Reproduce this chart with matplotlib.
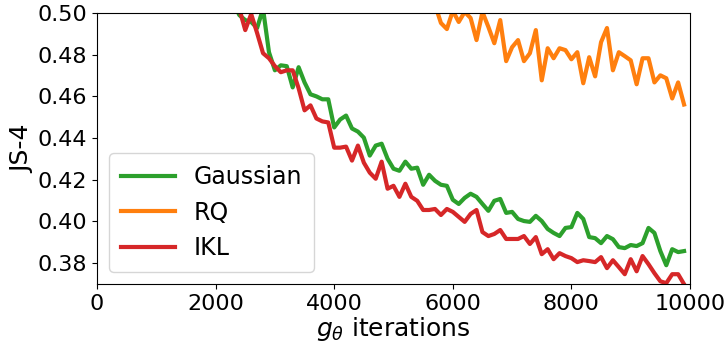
import numpy as np
import matplotlib.pyplot as plt

# JS-4 score every 100 generator iterations
gauss_start = 2300
gauss_js = [0.505, 0.499, 0.4966, 0.4957, 0.4928, 0.502, 0.4812, 0.4725, 0.4749, 0.4745,
            0.4643, 0.4740, 0.4667, 0.4610, 0.4600, 0.4586, 0.4586, 0.4451, 0.4489, 0.4508,
            0.4446, 0.4431, 0.4402, 0.4316, 0.4364, 0.4373, 0.4301, 0.4253, 0.4243, 0.4287,
            0.4253, 0.4258, 0.4176, 0.4224, 0.4195, 0.4176, 0.4171, 0.4104, 0.4084, 0.4113,
            0.4133, 0.4118, 0.4084, 0.4051, 0.4099, 0.4108, 0.4041, 0.4046, 0.4012, 0.4002,
            0.3998, 0.4027, 0.4002, 0.3964, 0.3945, 0.3930, 0.3969, 0.3973, 0.4041, 0.4012,
            0.3925, 0.3920, 0.3896, 0.3930, 0.3915, 0.3877, 0.3872, 0.3887, 0.3882, 0.3896,
            0.3969, 0.3945, 0.3858, 0.3790, 0.3867, 0.3853, 0.3858]

rq_start = 5600
rq_js = [0.510, 0.504, 0.4952, 0.4923, 0.501, 0.4957, 0.5005, 0.4976, 0.4870, 0.5005,
         0.4933, 0.4855, 0.4966, 0.4769, 0.4836, 0.4870, 0.4769, 0.4807, 0.4918, 0.4677,
         0.4831, 0.4783, 0.4831, 0.4822, 0.4778, 0.4812, 0.4663, 0.4788, 0.4696, 0.4860,
         0.4928, 0.4725, 0.4812, 0.4793, 0.4773, 0.4658, 0.4783, 0.4783, 0.4667, 0.4701,
         0.4687, 0.4590, 0.4667, 0.4561]

ikl_start = 2300
ikl_js = [0.508, 0.502, 0.4918, 0.4995, 0.4904, 0.4807, 0.4783, 0.4745, 0.4716, 0.4725,
          0.4725, 0.4639, 0.4533, 0.4557, 0.4494, 0.4480, 0.4475, 0.4354, 0.4354, 0.4359,
          0.4292, 0.4364, 0.4282, 0.4234, 0.4205, 0.4287, 0.4157, 0.4171, 0.4118, 0.4181,
          0.4118, 0.4099, 0.4055, 0.4055, 0.4060, 0.4031, 0.4060, 0.4046, 0.4022, 0.3998,
          0.4036, 0.4055, 0.3949, 0.3930, 0.3940, 0.3959, 0.3916, 0.3916, 0.3916, 0.3930,
          0.3892, 0.3925, 0.3843, 0.3867, 0.3819, 0.3848, 0.3834, 0.3824, 0.3805, 0.3814,
          0.3810, 0.3805, 0.3829, 0.3776, 0.3814, 0.3781, 0.3747, 0.3819, 0.3761, 0.3834,
          0.3795, 0.3752, 0.3713, 0.3704, 0.3747, 0.3747, 0.3699]


def iters(start, vals):
    return start + 100 * np.arange(len(vals))


fig = plt.figure(figsize=(7.28, 3.46), dpi=100)
ax = fig.add_axes([97 / 728, 1 - 284 / 346, 593 / 728, 271 / 346])

ax.plot(iters(gauss_start, gauss_js), gauss_js, color='tab:green', lw=3, label='Gaussian')
ax.plot(iters(rq_start, rq_js), rq_js, color='tab:orange', lw=3, label='RQ')
ax.plot(iters(ikl_start, ikl_js), ikl_js, color='tab:red', lw=3, label='IKL')

ax.set_xlim(0, 10000)
ax.set_ylim(0.37, 0.50)
ax.set_xticks([0, 2000, 4000, 6000, 8000, 10000])
ax.set_yticks([0.38, 0.40, 0.42, 0.44, 0.46, 0.48, 0.50])
ax.tick_params(labelsize=16)
ax.set_xlabel(r'$g_\theta$ iterations', fontsize=18, labelpad=1)
ax.set_ylabel('JS-4', fontsize=18, labelpad=2)
ax.legend(loc='lower left', fontsize=17, handlelength=2.3, borderpad=0.5)

plt.savefig('out.png', dpi=100)
